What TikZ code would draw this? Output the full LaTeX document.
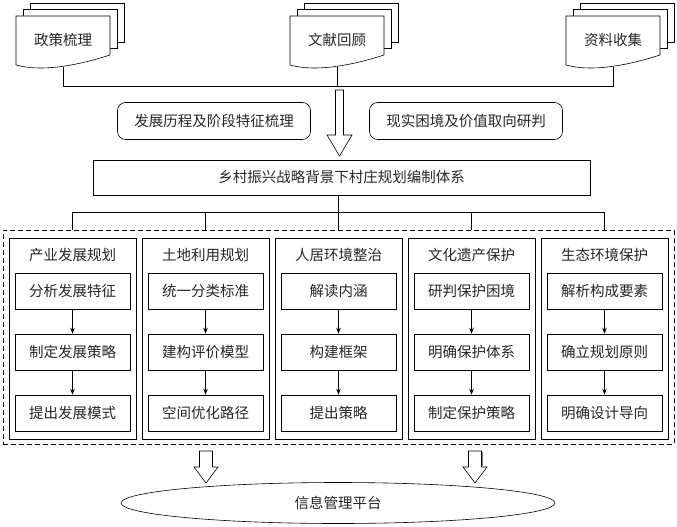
\documentclass[tikz,border=0pt]{standalone}
\usepackage{fontspec}
\newfontfamily\cjk{Noto Sans CJK SC}
\usetikzlibrary{arrows.meta,shapes.geometric}

\begin{document}
\begin{tikzpicture}[x=1pt,y=-1pt,
  font=\cjk\fontsize{14.5}{17}\selectfont,
  line width=0.6pt,
  page/.style={draw,fill=white},
  task/.style={draw,rounded corners=8pt,minimum width=193pt,minimum height=37pt},
  mainbox/.style={draw,minimum width=497pt,minimum height=35pt},
  column/.style={draw,minimum width=127pt,minimum height=201pt},
  stepbox/.style={draw,minimum width=115pt,minimum height=36pt},
  hollow/.style={draw,fill=white,line join=miter},
  every node/.style={align=center,text=black!85}]

\useasboundingbox (0,0) rectangle (677,527);

%draw document piles
  \foreach \x/\name/\txt in {16/zc/政策梳理, 290/wx/文献回顾, 566/zl/资料收集} {
    \draw[page] (\x+14,3) rectangle (\x+108,42);
    \draw[page] (\x+7,9) rectangle (\x+101,48);
    \draw[page] (\x,16) -- (\x+94,16) -- (\x+94,55)
      .. controls (\x+60,66) and (\x+25,72) .. (\x,65) -- cycle;
    \node (\name) at (\x+47,40) {\txt};
    \coordinate (\name-b) at (\x+47,67); }

%join documents
  \coordinate (bus) at (0,86);
  \draw (zc-b) -- (zc-b |- bus) -| (zl-b);
  \draw (wx-b) -- (wx-b |- bus);

%big arrow and tasks
  \draw[hollow] (335.5,90) -- (343.5,90) -- (343.5,135) -- (352,135)
    -- (339.5,156) -- (327,135) -- (335.5,135) -- cycle;
  \node[task] (fz) at (214,121) {发展历程及阶段特征梳理};
  \node[task] (xs) at (466,121) {现实困境及价值取向研判};
  \node[mainbox] (tx) at (341.5,177.5) {乡村振兴战略背景下村庄规划编制体系};

%dashed frame
  \node[draw,dash pattern=on 5pt off 3pt,line width=0.8pt,
    minimum width=671pt,minimum height=214pt] (frame) at (338.5,337) {};

%columns with their steps
  \foreach \i/\title/\a/\b/\c in {
      1/产业发展规划/分析发展特征/制定发展策略/提出发展模式,
      2/土地利用规划/统一分类标准/建构评价模型/空间优化路径,
      3/人居环境整治/解读内涵/构建框架/提出策略,
      4/文化遗产保护/研判保护困境/明确保护体系/制定保护策略,
      5/生态环境保护/解析构成要素/确立规划原则/明确设计导向} {
    \pgfmathsetmacro\cx{72.5+133*(\i-1)}
    \node[column] (col\i) at (\cx,338.5) {};
    \node (head\i) at (\cx,255) {\title};
    \node[stepbox] (s\i a) at (\cx,291) {\a};
    \node[stepbox] (s\i b) at (\cx,352) {\b};
    \node[stepbox] (s\i c) at (\cx,413) {\c};
    \draw[-{Stealth[length=6pt,width=4.5pt]}] (s\i a) -- (s\i b);
    \draw[-{Stealth[length=6pt,width=4.5pt]}] (s\i b) -- (s\i c); }

%branches
  \coordinate (fork) at (0,212);
  \draw (col3.north |- tx.south) -- (col3.north |- frame.north);
  \draw (col1.north |- fork) -- (col5.north |- fork);
  \foreach \i in {1,2,4,5}
    \draw (col\i.north |- fork) -- (col\i.north |- frame.north);

%bottom arrows and platform
  \foreach \x in {206,475}
    \draw[hollow] (\x-6.5,451) -- (\x+6.5,451) -- (\x+6.5,467) -- (\x+12,467)
      -- (\x,483) -- (\x-12,467) -- (\x-6.5,467) -- cycle;
  \draw[gray,line width=1.2pt] (482.5,452) -- (482.5,466);
  \node[draw,ellipse,minimum width=434pt,minimum height=41pt] (pt) at (338,503) {信息管理平台};

\end{tikzpicture}
\end{document}
